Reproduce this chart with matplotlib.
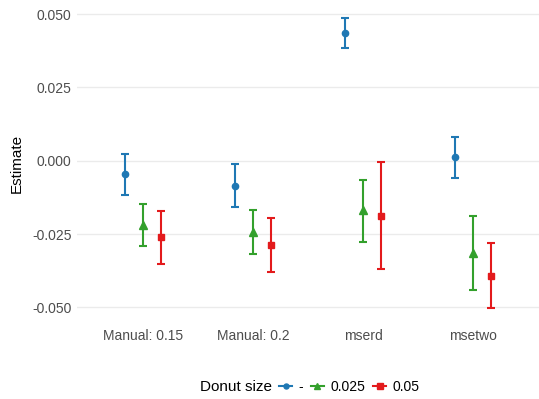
import matplotlib
matplotlib.use("Agg")
import matplotlib.pyplot as plt
from matplotlib.lines import Line2D
import numpy as np

plt.rcParams["font.family"] = ["Liberation Sans", "DejaVu Sans"]

# Bandwidth choices and donut sizes
categories = ["Manual: 0.15", "Manual: 0.2", "mserd", "msetwo"]
donut_labels = ["-", "0.025", "0.05"]

# Point estimates per donut size (rows follow categories)
est_none = [-0.0045, -0.0085, 0.0435, 0.0013]
est_025 = [-0.0220, -0.0242, -0.0169, -0.0314]
est_05 = [-0.0261, -0.0287, -0.0187, -0.0394]

# Confidence interval bounds
lo_none = [-0.0116, -0.0159, 0.0384, -0.0058]
hi_none = [0.0024, -0.0011, 0.0486, 0.0082]
lo_025 = [-0.0292, -0.0318, -0.0278, -0.0441]
hi_025 = [-0.0149, -0.0168, -0.0064, -0.0190]
lo_05 = [-0.0353, -0.0378, -0.0369, -0.0504]
hi_05 = [-0.0170, -0.0197, -0.0004, -0.0282]

colors = ["#1F78B4", "#33A02C", "#E31A1C"]
markers = ["o", "^", "s"]
msizes = [4.5, 5.5, 5.0]

series = [
    (est_none, lo_none, hi_none),
    (est_025, lo_025, hi_025),
    (est_05, lo_05, hi_05),
]

fig = plt.figure(figsize=(5.39, 3.99), dpi=100)
ax = fig.add_axes([0.1429, 0.1905, 0.8571, 0.80])

x = np.arange(1, len(categories) + 1)
offsets = [-1 / 6, 0, 1 / 6]

for (est, lo, hi), col, mk, ms, off in zip(series, colors, markers, msizes, offsets):
    est = np.array(est)
    lo = np.array(lo)
    hi = np.array(hi)
    xs = x + off
    ax.errorbar(xs, est, yerr=[est - lo, hi - est], fmt="none",
                ecolor=col, elinewidth=1.5, capsize=3, capthick=1.5, zorder=3)
    ax.plot(xs, est, linestyle="none", marker=mk, markersize=ms,
            color=col, zorder=4)

ax.set_xlim(0.4, 4.6)
ymin = min(min(lo_none), min(lo_025), min(lo_05))
ymax = max(max(hi_none), max(hi_025), max(hi_05))
pad = (ymax - ymin) * 0.05
ax.set_ylim(ymin - pad, ymax + pad)

ax.set_xticks(x)
ax.set_xticklabels(categories)
yt = [-0.05, -0.025, 0.0, 0.025, 0.05]
ax.set_yticks(yt)
ax.set_yticklabels([f"{v:.3f}" for v in yt])

ax.tick_params(axis="both", length=0, labelsize=10, labelcolor="#4D4D4D", pad=4)
ax.grid(axis="y", color="#EBEBEB", linewidth=1.0)
ax.set_axisbelow(True)
for s in ax.spines.values():
    s.set_visible(False)

ax.set_ylabel("Estimate", fontsize=11, color="black", labelpad=6)

# Legend along the bottom with its title on the left
fig.text(200 / 539, 1 - 387 / 399, "Donut size", fontsize=11,
         ha="left", va="center")
handles = [Line2D([0], [0], color=c, marker=m, markersize=s * 0.8, linewidth=1.5)
           for c, m, s in zip(colors, markers, msizes)]
fig.legend(handles, donut_labels, loc="center left",
           bbox_to_anchor=(279 / 539, 1 - 387 / 399), ncol=3, frameon=False,
           fontsize=10, handlelength=0.95, handletextpad=0.43,
           columnspacing=0.58, borderaxespad=0, borderpad=0)

fig.savefig("out.png", dpi=100)
